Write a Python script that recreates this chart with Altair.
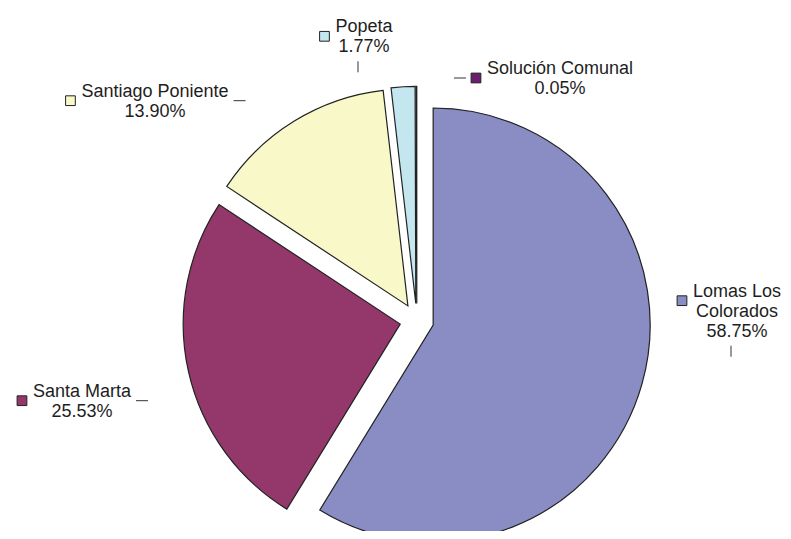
import altair as alt
import pandas as pd

# ---- data ----
names = ["Lomas Los Colorados", "Santa Marta", "Santiago Poniente", "Popeta", "Solución Comunal"]
values = [58.75, 25.53, 13.90, 1.77, 0.05]
colors = ["#8a8cc4", "#94386c", "#f8f8c8", "#c4e6ee", "#6a1f6e"]

# ---- layout (plot-area pixels) ----
W, H = 775, 523
PIE_CX, PIE_CY = 408.8, 312.4
RADIUS = 217
EXPLODE = 17
FONT = "Liberation Sans"
FS = 18
LH = 20

# label wrapping and anchor (centre x of text block, first baseline) and leader side
label_lines = {"Lomas Los Colorados": ["Lomas Los", "Colorados"]}
label_anchor = {
    "Lomas Los Colorados": (729, 288.7, "below"),
    "Santa Marta": (74, 388.7, "right"),
    "Santiago Poniente": (147, 88.7, "right"),
    "Popeta": (356, 24.3, "below"),
    "Solución Comunal": (552, 66, "left"),
}

# Arial-metric advance widths (per 1000 em) used to place markers beside text
AW = {" ": 278, "L": 556, "o": 556, "m": 833, "a": 556, "s": 500, "P": 667, "p": 556,
      "e": 556, "t": 278, "S": 667, "l": 222, "u": 556, "c": 500, "i": 222, "ó": 556,
      "n": 556, "C": 722, "g": 556, "M": 833, "r": 333, "T": 611, "d": 556}


def tw(s):
    return sum(AW.get(ch, 556) for ch in s) * FS / 1000.0


order = list(range(len(names)))
df = pd.DataFrame({"name": names, "value": values, "order": order})

xs = alt.Scale(domain=[0, W], range=[0, W])
ys = alt.Scale(domain=[0, H], range=[0, H])
cscale = alt.Scale(domain=names, range=colors)

base = alt.Chart(df).transform_window(
    cum="sum(value)", sort=[alt.SortField("order", order="ascending")], frame=[None, 0]
).transform_calculate(
    start="datum.cum - datum.value",
    end="datum.cum",
).transform_calculate(
    mid="(datum.start + datum.value / 2) / 100 * 2 * PI",
).transform_calculate(
    cx=f"{PIE_CX} + {EXPLODE} * sin(datum.mid)",
    cy=f"{PIE_CY} - {EXPLODE} * cos(datum.mid)",
)

pie = base.mark_arc(radius=RADIUS, stroke="#222222", strokeWidth=1.2).encode(
    x=alt.X("cx:Q", scale=xs, axis=None),
    y=alt.Y("cy:Q", scale=ys, axis=None),
    theta=alt.Theta("start:Q", scale=alt.Scale(domain=[0, 100])),
    theta2="end:Q",
    color=alt.Color("name:N", scale=cscale, legend=None),
)

# ---- labels ----
rows = []
for n, v in zip(names, values):
    lines = label_lines.get(n, [n]) + [f"{v:.2f}%"]
    cxl, by, side = label_anchor[n]
    first_w = tw(lines[0])
    left = cxl - first_w / 2
    right = cxl + first_w / 2
    sq_x = left - 6 - 5
    sq_y = by + 4
    last_by = by + LH * (len(lines) - 1)
    if side == "right":
        lx1, lx2, ly1, ly2 = right + 5, right + 17, by + 4, by + 4
    elif side == "left":
        lx1, lx2, ly1, ly2 = sq_x - 5 - 17, sq_x - 5 - 5, sq_y, sq_y
    else:
        lx1, lx2, ly1, ly2 = cxl - 6, cxl - 6, last_by + 9, last_by + 20
    rows.append({"name": n, "text": "\n".join(lines), "tx": cxl, "ty": by,
                 "sx": sq_x, "sy": sq_y, "lx1": lx1, "lx2": lx2, "ly1": ly1, "ly2": ly2})
lab = pd.DataFrame(rows)

texts = alt.Chart(lab).mark_text(
    font=FONT, fontSize=FS, align="center", baseline="alphabetic",
    lineBreak="\n", lineHeight=LH, color="#1e1e1e"
).encode(
    x=alt.X("tx:Q", scale=xs, axis=None),
    y=alt.Y("ty:Q", scale=ys, axis=None),
    text="text:N",
)

squares = alt.Chart(lab).mark_square(filled=True, size=95, stroke="#222222", strokeWidth=1, opacity=1).encode(
    x=alt.X("sx:Q", scale=xs, axis=None),
    y=alt.Y("sy:Q", scale=ys, axis=None),
    color=alt.Color("name:N", scale=cscale, legend=None),
)

leaders = alt.Chart(lab).mark_rule(color="#333333", strokeWidth=1).encode(
    x=alt.X("lx1:Q", scale=xs, axis=None),
    x2="lx2:Q",
    y=alt.Y("ly1:Q", scale=ys, axis=None),
    y2="ly2:Q",
)

chart = alt.layer(pie, leaders, squares, texts).properties(
    width=W, height=H, autosize="none", padding=0
).configure_view(stroke=None)

chart.save("out.html", embed_options={"renderer": "svg", "actions": False})
